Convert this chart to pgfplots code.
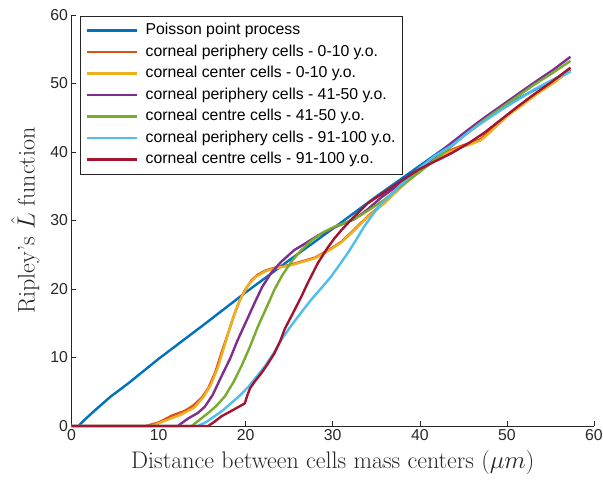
\documentclass[border=0pt]{standalone}
\usepackage{pgfplots}
\pgfplotsset{compat=1.18}
\usepackage{fontspec}
\newfontfamily\arial{Liberation Sans}

% MATLAB default line colours
\definecolor{mblue}{rgb}{0,0.447,0.741}
\definecolor{morange}{rgb}{0.850,0.325,0.098}
\definecolor{myellow}{rgb}{0.929,0.694,0.125}
\definecolor{mpurple}{rgb}{0.494,0.184,0.556}
\definecolor{mgreen}{rgb}{0.466,0.674,0.188}
\definecolor{mcyan}{rgb}{0.301,0.745,0.933}
\definecolor{mred}{rgb}{0.635,0.078,0.184}
\definecolor{axgray}{rgb}{0.15,0.15,0.15}

\begin{document}
\begin{tikzpicture}
\useasboundingbox (-71.5pt,-58pt) rectangle (531.5pt,426pt);
\begin{axis}[
    at={(0,0)}, anchor=south west,
    scale only axis, width=522.5pt, height=411pt,
    xmin=0, xmax=60, ymin=0, ymax=60,
    xtick={0,10,...,60}, ytick={0,10,...,60},
    axis x line*=bottom, axis y line*=left,
    axis line style={axgray, line width=0.5pt},
    tick align=inside, major tick length=5pt,
    every tick/.style={axgray, line width=0.5pt},
    clip=false,
    /pgf/number format/assume math mode=true,
    ticklabel style={font=\arial\fontsize{15.8}{18}\selectfont, text=axgray},
    xlabel={Distance between cells mass centers ($\mu m$)},
    ylabel={Ripley's $\hat{L}$ function},
    label style={font=\fontsize{24}{28}\selectfont, text=axgray},
    xlabel style={yshift=-3pt},
    ylabel style={yshift=4pt},
    legend cell align=left,
    legend image code/.code={\draw[#1] (0pt,0pt) -- (50pt,0pt);},
    legend style={
        at={(0.0163,0.998)}, anchor=north west,
        draw=axgray, line width=0.5pt, fill=white,
        inner xsep=6pt, inner ysep=7pt,
        font=\arial\fontsize{15.8}{18}\selectfont,
        nodes={inner xsep=1pt, inner ysep=0pt, text height=11.5pt, text depth=3.5pt},
        /tikz/row sep=6.5pt, /tikz/column sep=6pt},
    every axis plot/.append style={line width=2.4pt, line join=round},
]
% Poisson point process
\addplot[mblue] coordinates {
(0.8,0) (1.5,0.9) (2.7,2.3) (4.5,4.3) (6.5,6.2) (10,9.8) (12.6,12.3)
(15,14.6) (20,19.5) (25,24.2) (30,28.8) (35,33.5) (40,38.0) (45,42.5)
(50,46.9) (55,50.3) (57.3,52.0)};
% periphery 0-10
\addplot[morange] coordinates {
(0,0) (8.5,0) (10,0.5) (11.5,1.5) (13,2.2) (14,3) (15,4.2) (15.7,5.5)
(16.5,7.8) (17.2,10.6) (18,13.6) (18.7,16.3) (19.4,18.6) (20,20)
(20.7,21.3) (21.4,22.1) (22.3,22.7) (23.3,23.1) (25,23.5) (26.4,24)
(28,24.6) (29.8,25.9) (31,26.9) (32.5,28.7) (34,30.6) (36,32.7)
(37.8,34.9) (39.5,36.8) (40.9,38.3) (42,39.4) (43.6,40.3) (45,41)
(46,41.4) (47,41.9) (48,43) (49,44.2) (50.1,45.4) (51.5,46.7)
(53.5,48.6) (55.5,50.3) (57.2,51.8)};
% center 0-10
\addplot[myellow] coordinates {
(0,0) (9.2,0) (11,0.9) (12.5,1.6) (14.1,2.7) (15.2,4.3) (16,6)
(16.8,8.5) (17.5,11.4) (18.3,14.8) (19,17.4) (19.6,19) (20.3,20.6)
(21.2,21.8) (22.3,22.6) (23.3,23) (25,23.4) (26.4,23.9) (28,24.5)
(29.8,25.8) (31,26.8) (32.5,28.6) (34,30.5) (36,32.6) (37.8,34.8)
(39.5,36.7) (40.9,38.2) (42,39.2) (43.6,40.1) (45,40.8) (46,41.2)
(47,41.7) (48,42.8) (49,44.0) (50.1,45.3) (51.5,46.6) (53.5,48.5)
(55.5,50.2) (57.2,51.9)};
% periphery 41-50
\addplot[mpurple] coordinates {
(0,0) (12.2,0) (13.4,1.1) (14.5,1.9) (15.3,2.8) (16.2,4.5) (17.2,7.2)
(18.2,9.8) (19.1,12.6) (20,15.1) (21,17.9) (21.9,20.3) (22.9,22.3)
(24.1,24) (25.6,25.7) (26.4,26.3) (28.3,27.8) (30.2,29.0) (32.5,30.2)
(34,31.6) (35.6,33.4) (37.8,35.4) (39.8,37.4) (41.7,39.3) (43.6,41.3)
(45.5,43.2) (47.4,45) (49.3,46.7) (51.2,48.4) (53.1,50.1) (55.2,51.9)
(57.3,53.9)};
% centre 41-50
\addplot[mgreen] coordinates {
(0,0) (13.8,0) (14.8,1) (15.7,1.9) (16.6,2.9) (17.6,4.3) (18.6,6.4)
(19.5,8.7) (20.5,11.6) (21.4,14.5) (22.4,17.3) (23.3,19.9) (24.2,22)
(25.2,23.9) (26.4,25.7) (27.5,27) (28.8,28.2) (30.2,29.1) (31.7,29.8)
(33,30.6) (34,31.4) (35.9,33) (37.8,35) (39.8,36.9) (41.7,38.8)
(43.6,40.8) (45.5,42.8) (47.4,44.7) (49.3,46.4) (51.2,48.1) (53.1,49.8)
(55.2,51.5) (57.3,53.3)};
% periphery 91-100
\addplot[mcyan] coordinates {
(0,0) (14.5,0) (15.5,0.6) (16.4,1.4) (17.4,2.3) (18.3,3.3) (19.3,4.4)
(20.3,5.7) (21.2,7.1) (22.2,8.7) (23.2,10.6) (24.1,12.6) (25.2,14.6)
(26.4,16.6) (27.5,18.4) (28.6,20) (29.8,21.8) (30.7,23.4) (31.7,25.2)
(32.7,27.2) (33.6,29.1) (34.6,30.9) (35.6,32.5) (36.7,33.8) (37.8,35.2)
(39.8,37.5) (41.7,39.4) (43.6,40.9) (45.5,42.8) (47.4,44.5) (49.3,46.1)
(51.2,47.6) (53.1,49.1) (55.2,50.5) (57.3,51.7)};
% centre 91-100
\addplot[mred] coordinates {
(0,0) (15.7,0) (16.5,0.7) (17.2,1.4) (18.5,2.3) (19.9,3.3) (20.2,4.5)
(20.5,5.5) (21.1,6.6) (21.8,7.7) (22.5,9) (23.3,10.6) (24,12.5)
(24.5,14.2) (25.4,16.4) (26.4,18.9) (27.1,20.8) (28.3,23.8) (29.4,26)
(30.2,27.4) (31,28.6) (32.1,30.1) (32.9,31.1) (34,32.5) (35.9,34.1)
(37.8,35.7) (39.8,37.4) (41.7,38.6) (43.6,39.8) (45.5,41.2) (47.4,42.8)
(49.3,44.7) (51.2,46.6) (53.1,48.4) (55,50.1) (57.3,52.3)};
\legend{Poisson point process,
corneal periphery cells - 0-10 y.o.,
corneal center cells - 0-10 y.o.,
corneal periphery cells - 41-50 y.o.,
corneal centre cells - 41-50 y.o.,
corneal periphery cells - 91-100 y.o.,
corneal centre cells - 91-100 y.o.}
\end{axis}
\end{tikzpicture}
\end{document}
